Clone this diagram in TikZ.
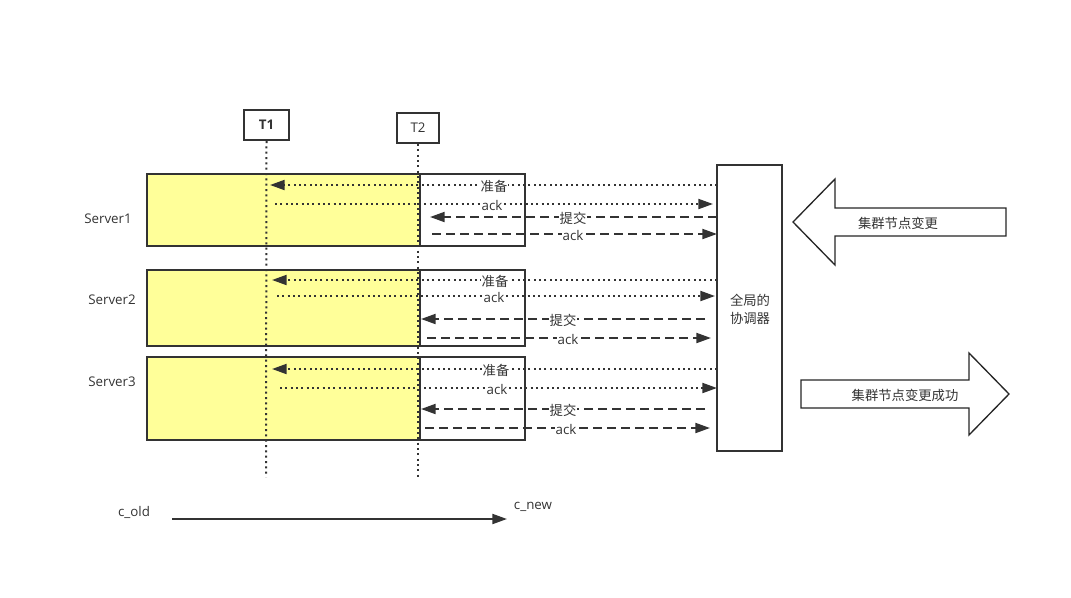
\documentclass[tikz,border=0pt]{standalone}
\usepackage{fontspec}
\setmainfont{Open Sans}
\newfontfamily\cjk{Noto Sans CJK SC}
\usetikzlibrary{arrows.meta,fit}
\definecolor{ln}{HTML}{333333}
\definecolor{yel}{HTML}{FFFF99}
\begin{document}
\begin{tikzpicture}[x=0.75pt,y=-0.75pt,
  every node/.style={text=ln, font=\fontsize{10pt}{12pt}\selectfont},
  cj/.style={font=\fontsize{10pt}{12pt}\cjk},
  frame/.style={draw=ln, line width=1.5pt, inner sep=0pt},
  ybox/.style={frame, fill=yel},
  wbox/.style={frame, fill=white},
  dotln/.style={draw=ln, line width=1.5pt, dash pattern=on 1.5pt off 2.5pt},
  dashln/.style={draw=ln, line width=1.5pt, dash pattern=on 6.75pt off 3.75pt},
  tip/.style={-{Triangle[length=11pt,width=7.5pt]}},
  lbl/.style={fill=white, inner sep=0.5pt},
  bigarrow/.style={draw=black!85, line width=1pt, fill=white}]
\useasboundingbox (0,0) rectangle (1071,597);

% T markers
\node (t1) [frame, fit={(244,110) (289,140)}] {};
\node at (t1.center) {\bfseries T1};
\node (t2) [frame, fit={(397,113) (439,143)}] {};
\node at (t2.center) {T2};

% server boxes
\node (s1y) [ybox, fit={(147,174) (420,246)}] {};
\node (s1w) [wbox, fit={(420,174) (525,246)}] {};
\node (s2y) [ybox, fit={(147,270) (420,346)}] {};
\node (s2w) [wbox, fit={(420,270) (525,346)}] {};
\node (s3y) [ybox, fit={(147,357) (420,440)}] {};
\node (s3w) [wbox, fit={(420,357) (525,440)}] {};
\node (n1) at (108,219) {Server1};
\node (n2) at (112,300) {Server2};
\node (n3) at (112,382) {Server3};

% time lines
\coordinate (t1e) at (266,477);
\coordinate (t2e) at (418,480);
\draw[dotln] (t1.south) -- (t1e);
\draw[dotln] (t2.south) -- (t2e);

% coordinator
\node (co) [frame, fit={(717,165) (782,451)}] {};
\node[align=center, font=\fontsize{10pt}{13.5pt}\cjk] at (750,309) {全局的\\协调器};

% Server1 messages
\coordinate (a1s) at (717,185); \coordinate (a1e) at (270,185);
\coordinate (b1s) at (275,204); \coordinate (b1e) at (713,204);
\coordinate (c1s) at (717,217); \coordinate (c1e) at (430,217);
\coordinate (d1s) at (432,234); \coordinate (d1e) at (717,234);
\draw[dotln, tip] (a1s) -- (a1e);
\draw[dotln, tip] (b1s) -- (b1e);
\draw[dashln, tip] (c1s) -- (c1e);
\draw[dashln, tip] (d1s) -- (d1e);
\node[lbl, cj] at (494,186) {准备};
\node[lbl] at (492,205) {ack};
\node[lbl, cj] at (573,218) {提交};
\node[lbl] at (573,235) {ack};

% Server2 messages
\coordinate (a2s) at (717,280); \coordinate (a2e) at (272,280);
\coordinate (b2s) at (277,296); \coordinate (b2e) at (715,296);
\coordinate (c2s) at (705,319); \coordinate (c2e) at (421,319);
\coordinate (d2s) at (427,338); \coordinate (d2e) at (711,338);
\draw[dotln, tip] (a2s) -- (a2e);
\draw[dotln, tip] (b2s) -- (b2e);
\draw[dashln, tip] (c2s) -- (c2e);
\draw[dashln, tip] (d2s) -- (d2e);
\node[lbl, cj] at (495,281) {准备};
\node[lbl] at (494,297) {ack};
\node[lbl, cj] at (563,320) {提交};
\node[lbl] at (568,339) {ack};

% Server3 messages
\coordinate (a3s) at (717,369); \coordinate (a3e) at (272,369);
\coordinate (b3s) at (280,388); \coordinate (b3e) at (717,388);
\coordinate (c3s) at (705,409); \coordinate (c3e) at (421,409);
\coordinate (d3s) at (425,428); \coordinate (d3e) at (710,428);
\draw[dotln, tip] (a3s) -- (a3e);
\draw[dotln, tip] (b3s) -- (b3e);
\draw[dashln, tip] (c3s) -- (c3e);
\draw[dashln, tip] (d3s) -- (d3e);
\node[lbl, cj] at (496,370) {准备};
\node[lbl] at (497,389) {ack};
\node[lbl, cj] at (563,410) {提交};
\node[lbl] at (566,429) {ack};

% big arrows
\draw[bigarrow] (793,222) -- (835,179) -- (835,208) -- (1006,208) -- (1006,236) -- (835,236) -- (835,265) -- cycle;
\node (ch) [cj] at (898,223) {集群节点变更};
\draw[bigarrow] (801,380) -- (969,380) -- (969,353) -- (1009,394) -- (969,435) -- (969,408) -- (801,408) -- cycle;
\node (ok) [cj] at (905,395) {集群节点变更成功};

% bottom
\node (old) at (134,512) {c\_old};
\node (new) at (533,507) {c\_new};
\coordinate (os) at (172,519); \coordinate (oe) at (507,519);
\draw[draw=ln, line width=1.5pt, tip] (os) -- (oe);
\end{tikzpicture}
\end{document}
